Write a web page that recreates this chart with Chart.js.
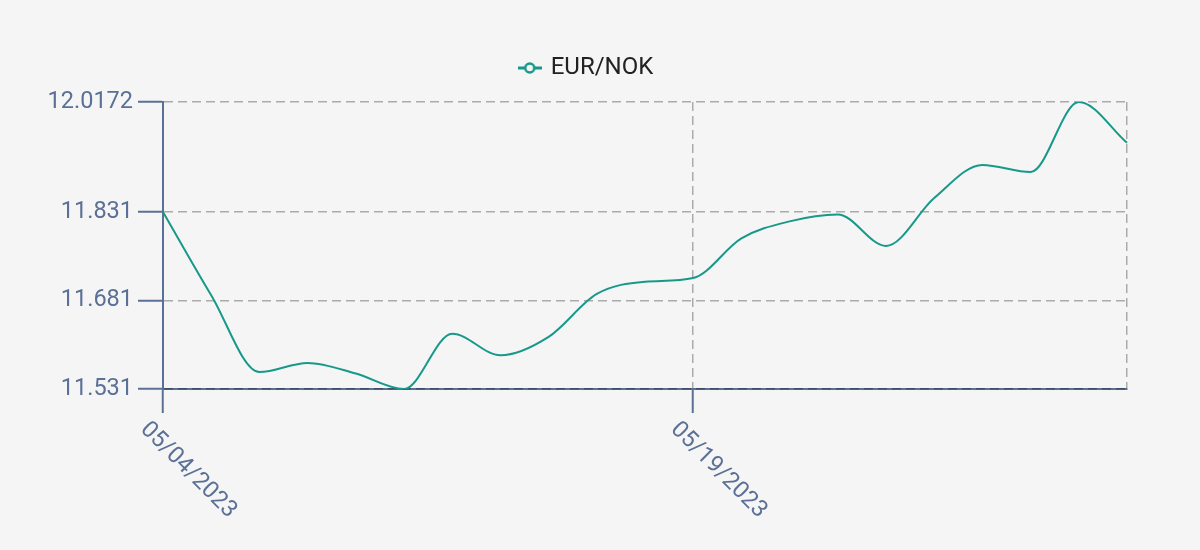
<!DOCTYPE html>
<html>
<head>
<meta charset="utf-8">
<script src="https://cdn.jsdelivr.net/npm/chart.js@4.4.0/dist/chart.umd.min.js"></script>
<style>
  html, body { margin: 0; padding: 0; background: #f5f5f5; }
  #wrap { width: 1200px; height: 550px; }
</style>
</head>
<body>
<div id="wrap"><canvas id="chart"></canvas></div>
<script>
// business days shown on the x axis
const dates = ['05/04/2023','05/05/2023','05/08/2023','05/09/2023','05/10/2023','05/11/2023','05/12/2023',
  '05/15/2023','05/16/2023','05/17/2023','05/18/2023','05/19/2023','05/22/2023','05/23/2023',
  '05/24/2023','05/25/2023','05/26/2023','05/29/2023','05/30/2023','05/31/2023','06/01/2023'];
const eurNok = [11.831, 11.690, 11.5596, 11.5752, 11.5572, 11.531, 11.6247,
  11.588, 11.6192, 11.692, 11.7127, 11.719, 11.7862, 11.815,
  11.8266, 11.7733, 11.8545, 11.9106, 11.8985, 12.0172, 11.948];
const xTickLabels = ['05/04/2023','05/19/2023'];
const yTicks = [11.531, 11.681, 11.831, 12.0172];

const lineColor = '#17998a';
const axisColor = '#5b7096';
const gridColor = 'rgba(0,0,0,0.3)';

function legendIcon(){
    const c=document.createElement('canvas');
    c.width=24; c.height=14;
    const g=c.getContext('2d');
    g.strokeStyle=lineColor;
    g.lineWidth=3;
    g.beginPath(); g.moveTo(0,7); g.lineTo(24,7); g.stroke();
    g.beginPath(); g.arc(12,7,4.5,0,Math.PI*2);
    g.fillStyle='#f5f5f5'; g.fill();
    g.lineWidth=2.5; g.stroke();
    return c;
}

// a bit more room under the legend
const legendGap={
    id:'legendGap',
    beforeInit(chart){
        if(!chart.legend) return;
        const fit=chart.legend.fit;
        chart.legend.fit=function(){
            fit.bind(chart.legend)();
            this.height+=12;
        };
    }
};

// x labels run down to the right from the tick, so they are drawn here
const xLabels={
    id:'xLabels',
    afterDraw(chart){
        const sx=chart.scales.x;
        const ctx=chart.ctx;
        ctx.save();
        ctx.font='23.5px Roboto';
        ctx.fillStyle=axisColor;
        ctx.textAlign='left';
        ctx.textBaseline='middle';
        xTickLabels.forEach(label=>{
            const px=sx.getPixelForValue(dates.indexOf(label));
            ctx.save();
            ctx.translate(px-19, sx.top+37);
            ctx.rotate(Math.PI/4);
            ctx.fillText(label,0,0);
            ctx.restore();
        });
        ctx.restore();
    }
};

let chart=document.getElementById("chart");

new Chart(chart,{
    type:"line",
    data:{
        labels:dates,
        datasets:[
            {
                label:'EUR/NOK',
                data:eurNok,
                borderColor:lineColor,
                backgroundColor:lineColor,
                borderWidth:2,
                pointRadius:0,
                cubicInterpolationMode:'monotone',
                fill:false
            }
        ]
    },
    options:{
        responsive:true,
        maintainAspectRatio:false,
        animation:false,
        layout:{
            padding:{top:36,left:47,right:73,bottom:0}
        },
        plugins:{
            legend:{
                display:true,
                labels:{
                    usePointStyle:true,
                    pointStyle:legendIcon(),
                    pointStyleWidth:18,
                    padding:20,
                    color:'#222',
                    font:{family:'Roboto',size:24}
                }
            },
            tooltip:{enabled:false}
        },
        scales:{
            x:{
                type:'category',
                offset:false,
                afterBuildTicks:(scale)=>{
                    const idx=xTickLabels.map(l=>dates.indexOf(l));
                    idx.push(dates.length-1);
                    scale.ticks=idx.map(v=>({value:v}));
                },
                afterFit:(scale)=>{ scale.height=161; },
                ticks:{display:false},
                grid:{
                    color:gridColor,
                    lineWidth:1.5,
                    tickLength:24,
                    tickWidth:2,
                    tickBorderDash:[],
                    tickColor:(c)=> c.tick && c.tick.value===dates.length-1 ? 'rgba(0,0,0,0)' : axisColor
                },
                border:{display:true,color:axisColor,width:2,dash:[9,5],z:-1}
            },
            y:{
                min:yTicks[0],
                max:yTicks[yTicks.length-1],
                afterBuildTicks:(scale)=>{
                    scale.ticks=yTicks.map(v=>({value:v}));
                },
                afterFit:(scale)=>{ scale.width=116; },
                ticks:{
                    color:axisColor,
                    padding:5,
                    font:{family:'Roboto',size:23.5},
                    callback:(v)=>String(v)
                },
                grid:{
                    color:gridColor,
                    lineWidth:1.5,
                    tickLength:25,
                    tickWidth:2,
                    tickBorderDash:[],
                    tickColor:axisColor
                },
                border:{display:true,color:axisColor,width:2,dash:[9,5],z:-1}
            }
        }
    },
    plugins:[legendGap,xLabels]
});
</script>
</body>
</html>
